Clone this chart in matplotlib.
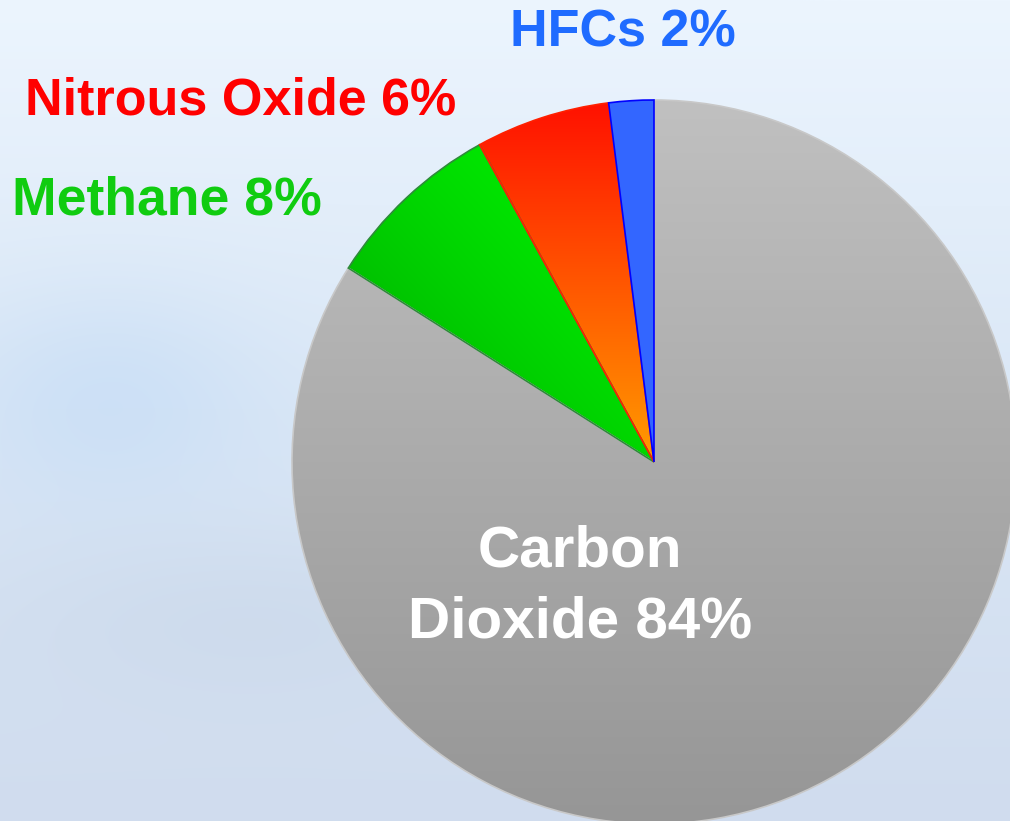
import matplotlib
matplotlib.use("Agg")
import matplotlib.pyplot as plt
import numpy as np

# greenhouse gas shares (%)
gases = ["HFCs", "Nitrous Oxide", "Methane", "Carbon\nDioxide"]
shares = [2, 6, 8, 84]
label_colors = ["#1f6bff", "#ff0000", "#10cc10", "#ffffff"]

W, H = 1010, 821
fig = plt.figure(figsize=(W / 100, H / 100), dpi=100)
ax = fig.add_axes([0, 0, 1, 1])

# sky background
yy, xx = np.mgrid[0:H, 0:W]
t = yy / H
top = np.array([236, 245, 254]) / 255
mid = np.array([218, 231, 246]) / 255
bot = np.array([208, 220, 238]) / 255
w1 = np.clip(t * 2, 0, 1)[..., None]
w2 = np.clip(t * 2 - 1, 0, 1)[..., None]
bg = top * (1 - w1) + mid * w1
bg = bg * (1 - w2) + bot * w2
# soft bluish patches on the left (cloud shading)
blob = np.exp(-(((xx - 110) / 150) ** 2 + ((yy - 400) / 110) ** 2))[..., None]
bg = bg * (1 - 0.6 * blob) + np.array([196, 220, 246]) / 255 * 0.6 * blob
blob2 = np.exp(-(((xx - 250) / 260) ** 2 + ((yy - 620) / 90) ** 2))[..., None]
bg = bg * (1 - 0.5 * blob2) + np.array([200, 214, 232]) / 255 * 0.5 * blob2
ax.imshow(bg, extent=(0, W, 0, H), origin="upper", zorder=0, aspect="auto")

cx, cy, r = 654, H - 462, 362
wedges, _ = ax.pie(shares, startangle=90, counterclock=True, center=(cx, cy),
                   radius=r, frame=True,
                   wedgeprops=dict(linewidth=1.2, zorder=2))

edge_colors = ["#0000ff", "#ff2000", "#2e8b3a", "#c8c8c8"]
edge_z = [5, 4, 3, 2]
for w, ec, z in zip(wedges, edge_colors, edge_z):
    w.set_edgecolor(ec)
    w.set_zorder(z)

# HFCs: flat blue
wedges[0].set_facecolor("#3366ff")


def gradient_fill(wedge, img, extent):
    wedge.set_facecolor("none")
    im = ax.imshow(img, extent=extent, origin="upper", zorder=1, aspect="auto",
                   interpolation="bilinear")
    im.set_clip_path(wedge)


n = 256
# Nitrous oxide: red at top to orange at bottom
s = np.linspace(0, 1, n)[:, None]
red = np.array([255, 16, 0]) / 255
orange = np.array([255, 155, 0]) / 255
img = (red * (1 - s) + orange * s)[:, None, :] * np.ones((1, 2, 1))
gradient_fill(wedges[1], img, (cx - r, cx + r, cy, cy + r))

# Methane: bright toward upper right, dark toward lower left
gx, gy = np.meshgrid(np.linspace(0, 1, n), np.linspace(0, 1, n))
p = np.clip((1 - gx) * 0.5 + gy * 0.5, 0, 1)[..., None] ** 1.5
bright = np.array([0, 245, 0]) / 255
dark = np.array([0, 158, 0]) / 255
img = bright * (1 - p) + dark * p
gradient_fill(wedges[2], img, (cx - r * 0.9, cx, cy, cy + r))

# Carbon dioxide: light gray top to darker gray bottom
light = np.array([192, 192, 192]) / 255
darkg = np.array([150, 150, 150]) / 255
img = (light * (1 - s) + darkg * s)[:, None, :] * np.ones((1, 2, 1))
gradient_fill(wedges[3], img, (cx - r, cx + r, cy - r, cy + r))

font = dict(family="Liberation Sans", weight="bold")
ax.text(510, H - 46, f"{gases[0]} {shares[0]}%", color=label_colors[0],
        fontsize=37.5, ha="left", va="baseline", **font)
ax.text(25, H - 114, f"{gases[1]} {shares[1]}%", color=label_colors[1],
        fontsize=37.5, ha="left", va="baseline", **font)
ax.text(12, H - 214, f"{gases[2]} {shares[2]}%", color=label_colors[2],
        fontsize=38.5, ha="left", va="baseline", **font)
co2_lines = f"{gases[3]} {shares[3]}%".split("\n")
ax.text(580, H - 566, co2_lines[0], color=label_colors[3],
        fontsize=42, ha="center", va="baseline", **font)
ax.text(580, H - 637, co2_lines[1], color=label_colors[3],
        fontsize=42, ha="center", va="baseline", **font)

ax.set_xlim(0, W)
ax.set_ylim(0, H)
ax.set_aspect("auto")
ax.axis("off")

fig.savefig("out.png", dpi=100)
